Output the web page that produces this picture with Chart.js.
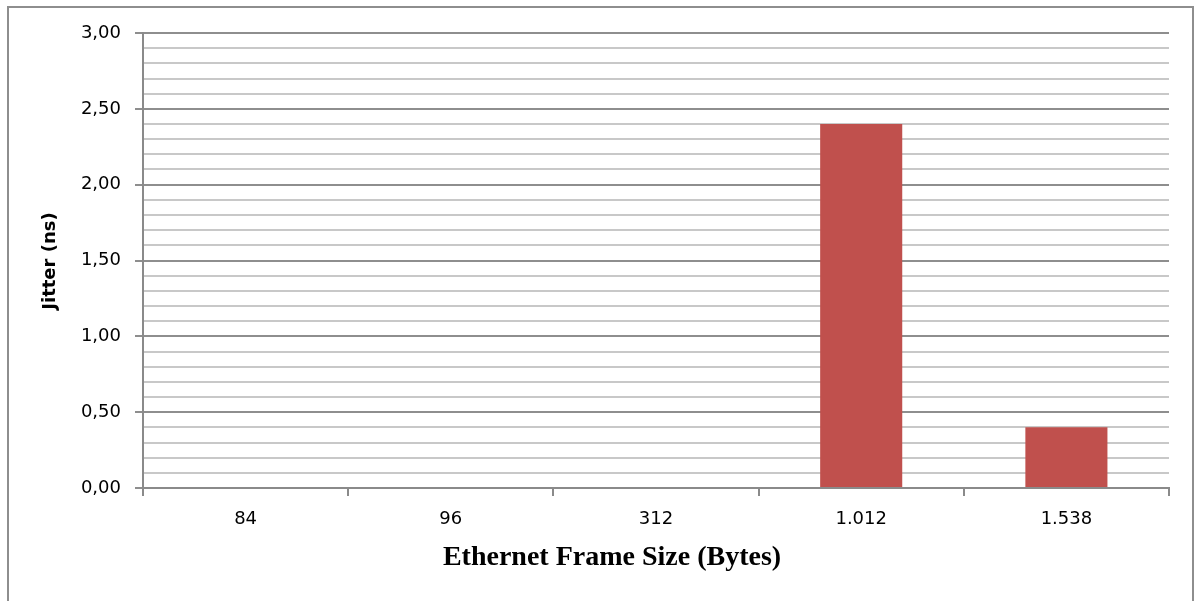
<!DOCTYPE html>
<html>
<head>
<meta charset="utf-8">
<script src="https://cdn.jsdelivr.net/npm/chart.js@4"></script>
<style>
  html, body { margin: 0; padding: 0; background: #fff; overflow: hidden; }
  #wrap { position: relative; width: 1203px; height: 601px; }
  #frame { position: absolute; left: 7px; top: 6px; width: 1187px; height: 620px; border: 2px solid #8e8e8e; box-sizing: border-box; pointer-events: none; }
  canvas { position: absolute; left: 0; top: 0; }
</style>
</head>
<body>
<div id="wrap">
  <canvas id="chart" width="1203" height="601"></canvas>
  <div id="frame"></div>
</div>
<script>
// Jitter per ethernet frame size
const frameSizes = ['84', '96', '312', '1.012', '1.538'];
const jitterNs = [0, 0, 0, 2.40, 0.40];
const yMax = 3.0;
const yStep = 0.1;
const xTitle = 'Ethernet Frame Size (Bytes)';
const yTitle = 'Jitter (ns)';

const isMajor = v => Math.abs(v * 2 - Math.round(v * 2)) < 1e-6;
const fmt = v => v.toFixed(2).replace('.', ',');

// axis titles drawn by hand so they can sit off the plot centre
const axisTitles = {
  id: 'axisTitles',
  afterDraw(chart) {
    const ctx = chart.ctx;
    ctx.save();
    ctx.fillStyle = '#000';
    ctx.textAlign = 'center';
    ctx.textBaseline = 'middle';
    ctx.font = 'bold 28px "Liberation Serif"';
    ctx.fillText(xTitle, 612, 558);
    ctx.translate(50, 261);
    ctx.rotate(-Math.PI / 2);
    ctx.font = 'bold 18px "DejaVu Sans"';
    ctx.fillText(yTitle, 0, 0);
    ctx.restore();
  }
};

new Chart(document.getElementById('chart'), {
  type: 'bar',
  data: {
    labels: frameSizes,
    datasets: [{ data: jitterNs, backgroundColor: '#c0504d', borderWidth: 0, categoryPercentage: 1, barPercentage: 0.4 }]
  },
  plugins: [axisTitles],
  options: {
    responsive: false,
    animation: false,
    events: [],
    layout: { padding: { top: 33, right: 34, left: 0, bottom: 0 } },
    plugins: { legend: { display: false }, tooltip: { enabled: false } },
    scales: {
      x: {
        grid: { offset: true, drawOnChartArea: false, drawTicks: true, tickLength: 8, color: '#8a8a8a', lineWidth: 2 },
        border: { color: '#8a8a8a', width: 2 },
        ticks: { color: '#000', font: { family: 'DejaVu Sans', size: 18 }, padding: 13 },
        afterFit: s => { s.height = 601 - 488; }
      },
      y: {
        min: 0,
        max: yMax,
        ticks: {
          stepSize: yStep,
          autoSkip: false,
          color: '#000',
          font: { family: 'DejaVu Sans', size: 18 },
          padding: 14,
          callback: v => isMajor(v) ? fmt(v) : ''
        },
        grid: {
          tickLength: 8,
          lineWidth: 2,
          color: ctx => isMajor(ctx.tick.value) ? '#8e8e8e' : '#c8c8c8',
          tickColor: ctx => isMajor(ctx.tick.value) ? '#8e8e8e' : 'rgba(0,0,0,0)'
        },
        border: { color: '#8a8a8a', width: 2 },
        afterFit: s => { s.width = 143; }
      }
    }
  }
});
</script>
</body>
</html>
